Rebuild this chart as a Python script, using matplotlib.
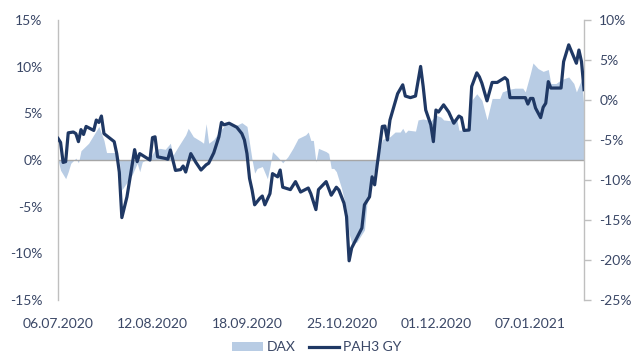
import matplotlib
matplotlib.use("Agg")
import matplotlib.pyplot as plt
import pandas as pd
from matplotlib.patches import Patch
from matplotlib.lines import Line2D

plt.rcParams['font.family'] = ['Lato', 'DejaVu Sans']

# ---------------- data ----------------
dax_dates = ['2020-07-06', '2020-07-07', '2020-07-09', '2020-07-10', '2020-07-11', '2020-07-13', '2020-07-14',
             '2020-07-15', '2020-07-18', '2020-07-20', '2020-07-22', '2020-07-24', '2020-07-25', '2020-07-29',
             '2020-07-30', '2020-07-31', '2020-08-04', '2020-08-06', '2020-08-07', '2020-08-08', '2020-08-11',
             '2020-08-13', '2020-08-15', '2020-08-17', '2020-08-19', '2020-08-20', '2020-08-22', '2020-08-25',
             '2020-08-26', '2020-08-28', '2020-08-31', '2020-09-01', '2020-09-02', '2020-09-03', '2020-09-05',
             '2020-09-07', '2020-09-10', '2020-09-13', '2020-09-16', '2020-09-18', '2020-09-19', '2020-09-20',
             '2020-09-21', '2020-09-22', '2020-09-24', '2020-09-26', '2020-09-27', '2020-09-28', '2020-09-30',
             '2020-10-02', '2020-10-04', '2020-10-06', '2020-10-08', '2020-10-11', '2020-10-12', '2020-10-13',
             '2020-10-14', '2020-10-15', '2020-10-16', '2020-10-19', '2020-10-20', '2020-10-21', '2020-10-22',
             '2020-10-23', '2020-10-25', '2020-10-27', '2020-10-28', '2020-10-29', '2020-10-31', '2020-11-03',
             '2020-11-04', '2020-11-06', '2020-11-08', '2020-11-10', '2020-11-13', '2020-11-15', '2020-11-17',
             '2020-11-18', '2020-11-19', '2020-11-20', '2020-11-23', '2020-11-24', '2020-11-26', '2020-11-29',
             '2020-12-01', '2020-12-03', '2020-12-04', '2020-12-07', '2020-12-09', '2020-12-10', '2020-12-13',
             '2020-12-14', '2020-12-15', '2020-12-17', '2020-12-19', '2020-12-21', '2020-12-23', '2020-12-26',
             '2020-12-27', '2020-12-30', '2021-01-01', '2021-01-04', '2021-01-05', '2021-01-07', '2021-01-08',
             '2021-01-10', '2021-01-12', '2021-01-14', '2021-01-15', '2021-01-17', '2021-01-19', '2021-01-22',
             '2021-01-24', '2021-01-25', '2021-01-27', '2021-01-28']
dax_values = [0.0, -1.1, -2.0, -1.25, -0.35, 0.2, -0.3,
              1.0, 1.8, 2.7, 3.6, 2.1, 0.8, 0.8,
              0.0, -3.2, -1.6, -0.35, -1.25, -0.2, 0.2,
              1.1, 1.25, 1.15, 1.8, 0.5, 1.4, 2.7,
              3.4, 2.5, 2.0, 1.8, 3.9, 1.8, 2.2,
              3.0, 3.9, 3.6, 4.0, 3.6, 1.8, 0.0,
              -1.4, -0.9, -0.7, -2.0, -0.7, 0.9, 0.35,
              -0.3, 0.35, 1.25, 2.3, 2.7, 3.0, 2.1,
              2.1, -0.2, 1.25, 0.9, 0.7, -0.9, -0.9,
              -1.25, -3.0, -5.4, -7.9, -8.9, -8.8, -7.5,
              -4.6, -2.1, 0.0, 2.2, 2.5, 3.0, 3.0,
              3.4, 2.9, 3.2, 3.1, 4.3, 4.4, 4.2,
              4.8, 4.6, 4.3, 4.2, 4.6, 3.2, 3.2,
              3.6, 6.4, 7.1, 6.4, 4.3, 6.6, 6.6,
              7.3, 7.6, 7.7, 7.7, 7.3, 9.3, 10.4,
              9.8, 9.5, 9.7, 8.2, 8.2, 8.6, 8.9,
              8.2, 7.3, 8.6, 5.5]

pah_dates = ['2020-07-06', '2020-07-07', '2020-07-08', '2020-07-09', '2020-07-10', '2020-07-12', '2020-07-13',
             '2020-07-14', '2020-07-15', '2020-07-16', '2020-07-17', '2020-07-20', '2020-07-21', '2020-07-22',
             '2020-07-23', '2020-07-24', '2020-07-26', '2020-07-28', '2020-07-29', '2020-07-30', '2020-07-31',
             '2020-08-02', '2020-08-05', '2020-08-06', '2020-08-07', '2020-08-09', '2020-08-11', '2020-08-12',
             '2020-08-13', '2020-08-14', '2020-08-17', '2020-08-18', '2020-08-19', '2020-08-21', '2020-08-23',
             '2020-08-24', '2020-08-25', '2020-08-27', '2020-08-29', '2020-08-31', '2020-09-02', '2020-09-03',
             '2020-09-05', '2020-09-07', '2020-09-08', '2020-09-09', '2020-09-11', '2020-09-14', '2020-09-16',
             '2020-09-17', '2020-09-18', '2020-09-19', '2020-09-20', '2020-09-21', '2020-09-23', '2020-09-24',
             '2020-09-25', '2020-09-27', '2020-09-28', '2020-09-30', '2020-10-01', '2020-10-02', '2020-10-05',
             '2020-10-07', '2020-10-09', '2020-10-12', '2020-10-13', '2020-10-15', '2020-10-16', '2020-10-19',
             '2020-10-21', '2020-10-23', '2020-10-24', '2020-10-26', '2020-10-27', '2020-10-28', '2020-10-29',
             '2020-11-02', '2020-11-03', '2020-11-05', '2020-11-06', '2020-11-07', '2020-11-08', '2020-11-10',
             '2020-11-11', '2020-11-12', '2020-11-13', '2020-11-16', '2020-11-18', '2020-11-19', '2020-11-21',
             '2020-11-23', '2020-11-25', '2020-11-26', '2020-11-27', '2020-11-29', '2020-11-30', '2020-12-01',
             '2020-12-02', '2020-12-04', '2020-12-06', '2020-12-08', '2020-12-10', '2020-12-11', '2020-12-12',
             '2020-12-14', '2020-12-15', '2020-12-17', '2020-12-18', '2020-12-19', '2020-12-21', '2020-12-23',
             '2020-12-25', '2020-12-28', '2020-12-29', '2020-12-30', '2021-01-05', '2021-01-06', '2021-01-07',
             '2021-01-08', '2021-01-09', '2021-01-11', '2021-01-12', '2021-01-13', '2021-01-14', '2021-01-15',
             '2021-01-19', '2021-01-20', '2021-01-22', '2021-01-25', '2021-01-26', '2021-01-27', '2021-01-28']
pah_values = [-4.8, -5.3, -7.8, -7.7, -4.1, -4.0, -4.2,
              -5.2, -3.7, -4.3, -3.3, -3.8, -2.5, -2.8,
              -2.0, -4.2, -4.7, -5.2, -6.7, -9.0, -14.7,
              -12.1, -6.2, -7.7, -6.7, -7.1, -7.5, -4.7,
              -4.6, -7.1, -7.3, -7.4, -6.25, -8.8, -8.7,
              -8.25, -9.0, -6.7, -7.8, -8.75, -8.1, -7.9,
              -6.6, -4.6, -2.8, -3.1, -2.9, -3.4, -4.2,
              -5.0, -6.7, -9.8, -11.25, -13.1, -12.3, -12.0,
              -13.1, -11.7, -9.2, -9.6, -8.75, -10.9, -11.2,
              -10.2, -11.5, -11.0, -11.7, -13.7, -11.2, -10.2,
              -11.9, -10.9, -11.25, -12.9, -14.6, -20.1, -18.5,
              -16.0, -13.1, -12.1, -9.6, -10.6, -8.1, -3.3,
              -3.25, -5.0, -2.5, 0.8, 1.9, 0.5, 0.3,
              0.5, 4.2, 1.7, -1.25, -3.1, -5.2, -1.25,
              -1.5, -0.6, -1.5, -2.9, -2.0, -2.2, -3.8,
              -3.75, 1.7, 3.4, 2.9, 2.1, -0.1, 2.2,
              2.2, 2.8, 2.5, 0.3, 0.3, -0.5, 0.2,
              0.2, -1.0, -2.2, -0.9, -0.4, 2.3, 1.5,
              1.5, 4.8, 6.9, 4.6, 6.25, 4.8, 1.3]

x_tick_labels = ['06.07.2020', '12.08.2020', '18.09.2020', '25.10.2020', '01.12.2020', '07.01.2021']
left_ticks = [-15, -10, -5, 0, 5, 10, 15]
right_ticks = [-25, -20, -15, -10, -5, 0, 5, 10]

# ---------------- styling ----------------
area_color = '#b8cce4'
line_color = '#1f3864'
text_color = '#3a4766'
axis_gray = '#bfbfbf'
fs = 10

fig = plt.figure(figsize=(6.34, 3.58), dpi=100)
ax = fig.add_axes([0.0915, 0.162, 0.8297, 0.782])
ax2 = ax.twinx()

dax_x = pd.to_datetime(dax_dates)
pah_x = pd.to_datetime(pah_dates)

ax.fill_between(dax_x, dax_values, 0, color=area_color, linewidth=0, zorder=1)
ax.axhline(0, color='#a6a6a6', linewidth=1.0, zorder=2)
ax2.plot(pah_x, pah_values, color=line_color, linewidth=2.3, solid_joinstyle='round', zorder=3)

ax.set_ylim(-15, 15)
ax2.set_ylim(-25, 10)
ax.set_xlim(pd.Timestamp('2020-07-06'), pd.Timestamp('2021-01-28'))

ax.set_yticks(left_ticks)
ax.set_yticklabels([f'{v}%' for v in left_ticks])
ax2.set_yticks(right_ticks)
ax2.set_yticklabels([f'{v}%' for v in right_ticks])

tick_dates = pd.to_datetime(x_tick_labels, format='%d.%m.%Y')
ax.set_xticks(tick_dates)
ax.set_xticklabels(x_tick_labels)

for a in (ax, ax2):
    for s in ('top', 'bottom'):
        a.spines[s].set_visible(False)
ax.spines['right'].set_visible(False)
ax2.spines['left'].set_visible(False)
ax.spines['left'].set_color(axis_gray)
ax.spines['left'].set_linewidth(1.0)
ax2.spines['right'].set_color(axis_gray)
ax2.spines['right'].set_linewidth(1.0)

ax.tick_params(axis='y', length=0, pad=11, labelsize=fs, labelcolor=text_color)
ax.tick_params(axis='x', length=0, pad=13, labelsize=fs, labelcolor=text_color)
ax2.tick_params(axis='y', length=5, width=1.0, color=axis_gray, pad=6, labelsize=fs, labelcolor=text_color)

handles = [Patch(facecolor=area_color, edgecolor='none'),
           Line2D([0], [0], color=line_color, linewidth=2.3)]
fig.legend(handles, ['DAX', 'PAH3 GY'], loc='lower center', bbox_to_anchor=(0.5, -0.022),
           ncol=2, frameon=False, fontsize=fs, labelcolor=text_color,
           handlelength=2.2, handletextpad=0.3, columnspacing=0.9)

fig.savefig('out.png', dpi=100)
